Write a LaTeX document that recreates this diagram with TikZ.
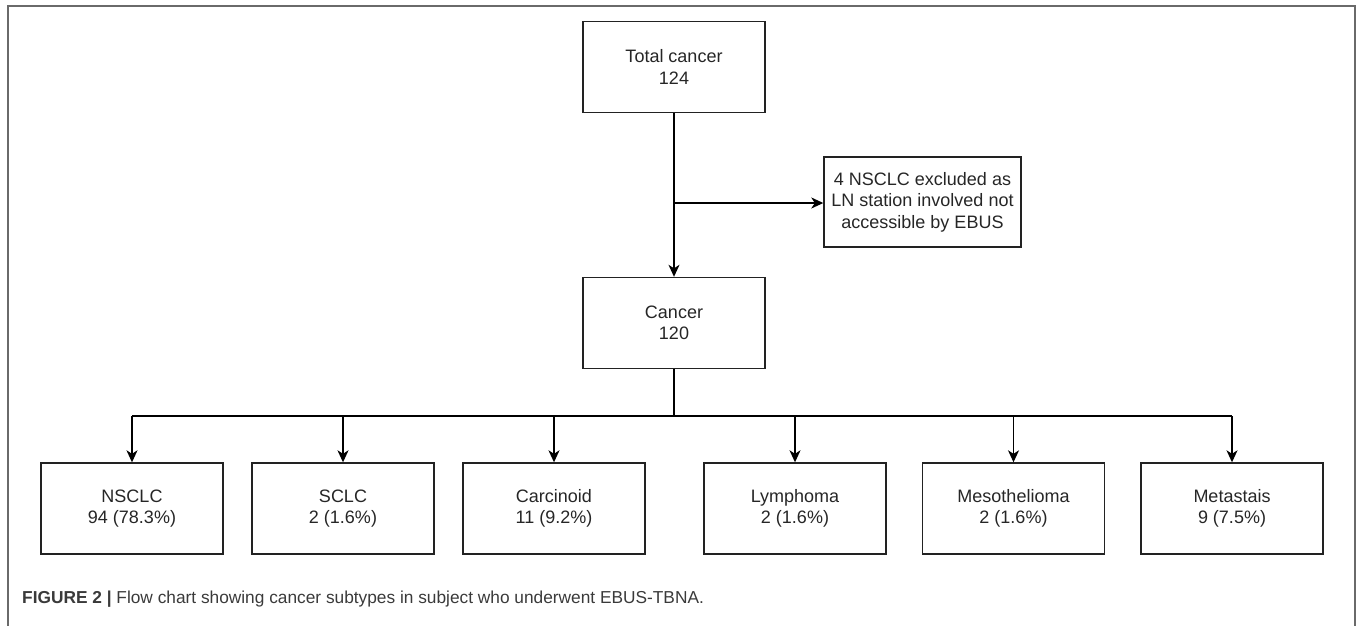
\documentclass[tikz,border=0pt]{standalone}
\usepackage{fontspec}
\setmainfont{Liberation Sans}
\usetikzlibrary{arrows.meta}
\definecolor{boxline}{HTML}{222222}
\definecolor{framegray}{HTML}{6A6A6A}
\definecolor{captext}{HTML}{3A3A3A}
\begin{document}
\begin{tikzpicture}[x=1pt,y=-1pt,
  fbox/.style={draw=boxline,line width=1.4pt,minimum width=182pt,minimum height=91pt,
    align=center,inner sep=0pt,font=\fontsize{18}{21.5}\selectfont,text=black!85},
  sidebox/.style={fbox,minimum width=197pt,minimum height=90pt},
  conn/.style={draw=black,line width=1.4pt},
  arr/.style={conn,-{Stealth[length=12pt,width=11pt,inset=3.5pt]}}]
\useasboundingbox (0,0) rectangle (1360,625);
\draw[framegray,line width=1.5pt] (8,640) -- (8,6) -- (1355,6) -- (1355,640);
\node[fbox] (total) at (674,67) {Total cancer\\124};
\node[sidebox] (excl) at (922.5,202) {4 NSCLC excluded as\\LN station involved not\\accessible by EBUS};
\node[fbox] (cancer) at (674,323) {Cancer\\120};
\node[fbox] (nsclc) at (132,508.5) {NSCLC\\94 (78.3\%)};
\node[fbox] (sclc) at (343,508.5) {SCLC\\2 (1.6\%)};
\node[fbox] (carc) at (554,508.5) {Carcinoid\\11 (9.2\%)};
\node[fbox] (lymph) at (795,508.5) {Lymphoma\\2 (1.6\%)};
\node[fbox] (meso) at (1013.5,508.5) {Mesothelioma\\2 (1.6\%)};
\node[fbox] (meta) at (1232,508.5) {Metastais\\9 (7.5\%)};
\coordinate (split) at (674,203);
\coordinate (bus) at (674,416);
\draw[arr] (total.south) -- (cancer.north);
\draw[arr] (split) -- (excl.west |- split);
\draw[conn] (cancer.south) -- (bus);
\draw[conn] (nsclc.north |- bus) -- (meta.north |- bus);
\foreach \n in {nsclc,sclc,carc,lymph,meso,meta}
  \draw[arr] (\n.north |- bus) -- (\n.north);
\node[anchor=base west,inner sep=0pt,text=captext,font=\fontsize{17.3}{20}\selectfont] (cap) at (22,603)
  {\textbf{FIGURE 2 |} Flow chart showing cancer subtypes in subject who underwent EBUS-TBNA.};
\end{tikzpicture}
\end{document}
